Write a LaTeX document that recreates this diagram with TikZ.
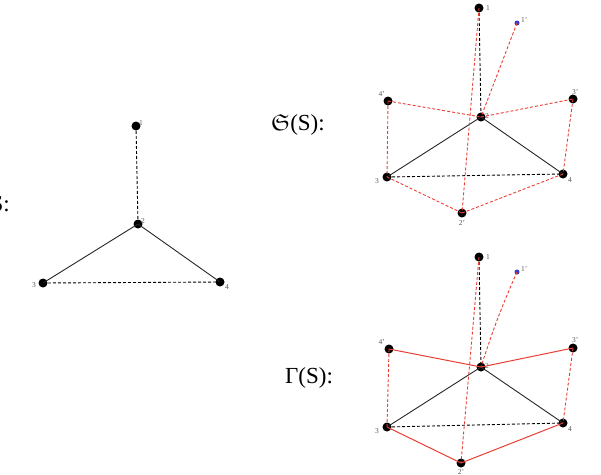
\documentclass[tikz,border=0pt]{standalone}
\usepackage{amssymb}
\usepackage{fontspec}
\setmainfont{Liberation Serif}
\definecolor{redl}{RGB}{232,62,52}
\definecolor{labg}{RGB}{90,90,90}
\definecolor{blued}{RGB}{50,60,200}
\begin{document}
\begin{tikzpicture}[x=1pt,y=-1pt,
  vtx/.style={circle,fill=black,inner sep=0pt,minimum size=9pt},
  bdot/.style={circle,fill=blued,inner sep=0pt,minimum size=5pt},
  lab/.style={font=\fontsize{7.5}{9}\selectfont,text=labg,inner sep=1pt},
  bd/.style={black,dash pattern=on 3pt off 2pt,line width=0.9pt},
  bs/.style={black!85,line width=0.9pt},
  rd/.style={redl,dash pattern=on 3pt off 2pt,line width=0.9pt},
  rs/.style={redl,line width=1pt},
  big/.style={font=\fontsize{23}{27}\selectfont,inner sep=0pt}]
\useasboundingbox (0,0) rectangle (601,474);

% ---------- S ----------
\node[big,anchor=east] (tS) at (10,204) {S:};
\node[vtx] (a1) at (136,126) {};
\node[vtx] (a2) at (138,224) {};
\node[vtx] (a3) at (43,283) {};
\node[vtx] (a4) at (220,282) {};
\node[lab,anchor=south west] (la1) at (138,127) {1};
\node[lab,anchor=south west] (la2) at (140,225) {2};
\node[lab,anchor=east] (la3) at (37,285) {3};
\node[lab,anchor=north west] (la4) at (224,283) {4};
\draw[bd] (a1.center) -- (a2.center);
\draw[bs] (a2.center) -- (a3.center);
\draw[bs] (a2.center) -- (a4.center);
\draw[bd] (a3.center) -- (a4.center);

% ---------- frak S(S) ----------
\node[big,anchor=west] (tF) at (271,125) {$\mathfrak{S}$(S):};
\node[vtx] (b1) at (479,8) {};
\node[bdot] (b1p) at (517,23) {};
\node[vtx] (b4p) at (388,101) {};
\node[vtx] (b3p) at (573,99) {};
\node[vtx] (b2) at (481,117) {};
\node[vtx] (b3) at (387,177) {};
\node[vtx] (b4) at (563,174) {};
\node[vtx] (b2p) at (462,213) {};
\node[lab,anchor=west] (lb1) at (485,8) {1};
\node[lab,anchor=west] (lb1p) at (520,20) {1'};
\node[lab,anchor=south east] (lb4p) at (386,98) {4'};
\node[lab,anchor=south west] (lb3p) at (571,96) {3'};
\node[lab,anchor=west] (lb2) at (484,116) {2};
\node[lab,anchor=east] (lb3) at (380,181) {3};
\node[lab,anchor=north west] (lb4) at (567,176) {4};
\node[lab,anchor=north] (lb2p) at (462,219) {2'};
\draw[bd] (b1.center) -- (b2.center);
\draw[bs] (b2.center) -- (b3.center);
\draw[bs] (b2.center) -- (b4.center);
\draw[bd] (b3.center) -- (b4.center);
\draw[rd] (b1.center) -- (b2p.center);
\draw[rd] (b1p.center) -- (b2.center);
\draw[rd] (b4p.center) -- (b2.center);
\draw[rd] (b2.center) -- (b3p.center);
\draw[rd] (b4p.center) -- (b3.center);
\draw[rd] (b3p.center) -- (b4.center);
\draw[rd] (b3.center) -- (b2p.center);
\draw[rd] (b2p.center) -- (b4.center);

% ---------- Gamma(S) ----------
\node[big,anchor=west] (tG) at (285,378) {Γ(S):};
\node[vtx] (c1) at (479,257) {};
\node[bdot] (c1p) at (517,272) {};
\node[vtx] (c4p) at (389,349) {};
\node[vtx] (c3p) at (573,348) {};
\node[vtx] (c2) at (481,367) {};
\node[vtx] (c3) at (387,427) {};
\node[vtx] (c4) at (563,423) {};
\node[vtx] (c2p) at (461,463) {};
\node[lab,anchor=west] (lc1) at (485,257) {1};
\node[lab,anchor=west] (lc1p) at (520,269) {1'};
\node[lab,anchor=south east] (lc4p) at (386,346) {4'};
\node[lab,anchor=south west] (lc3p) at (571,344) {3'};
\node[lab,anchor=west] (lc2) at (484,366) {2};
\node[lab,anchor=east] (lc3) at (380,431) {3};
\node[lab,anchor=north west] (lc4) at (567,425) {4};
\node[lab,anchor=north] (lc2p) at (461,468) {2'};
\draw[bd] (c1.center) -- (c2.center);
\draw[bs] (c2.center) -- (c3.center);
\draw[bs] (c2.center) -- (c4.center);
\draw[bd] (c3.center) -- (c4.center);
\draw[rd] (c1.center) -- (c2p.center);
\draw[rd] (c1p.center) to[bend right=3] (c2.center);
\draw[rs] (c4p.center) -- (c2.center);
\draw[rs] (c2.center) -- (c3p.center);
\draw[rd] (c4p.center) -- (c3.center);
\draw[rd] (c3p.center) -- (c4.center);
\draw[rs] (c3.center) -- (c2p.center);
\draw[rs] (c2p.center) -- (c4.center);
\end{tikzpicture}
\end{document}
